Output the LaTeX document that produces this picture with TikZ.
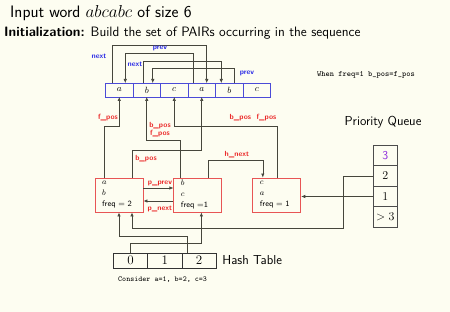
\documentclass[tikz,border=0pt]{standalone}
\usepackage{amsmath}
\usepackage{amssymb}
\usepackage{tikz}
\usetikzlibrary{arrows.meta, positioning}
\definecolor{slidebg}{RGB}{253,253,241}
\definecolor{seqblue}{RGB}{75,75,215}
\definecolor{ptrblue}{RGB}{45,45,230}
\definecolor{pairred}{RGB}{232,85,85}
\definecolor{labred}{RGB}{235,40,40}
\definecolor{pqviolet}{RGB}{140,40,220}
\definecolor{wiregray}{RGB}{70,70,60}

\begin{document}
\begin{tikzpicture}[
    x=1pt, y=-1pt,
    seqcell/.style={draw=seqblue, line width=0.8pt, minimum width=27.5pt, minimum height=14pt, inner sep=0pt, outer sep=0pt, font=\small},
    pair/.style={draw=pairred, line width=0.9pt, minimum width=48pt, minimum height=34pt, text width=34pt, inner xsep=7pt, inner ysep=0pt, align=left, font=\fontsize{8}{11}\selectfont\sffamily},
    hashcell/.style={draw=black!80, line width=0.7pt, minimum width=34.3pt, minimum height=15pt, inner sep=0pt, outer sep=0pt, font=\fontsize{13}{14}\selectfont},
    pqcell/.style={draw=black!70, line width=0.7pt, minimum width=24.5pt, minimum height=20.5pt, inner sep=0pt, outer sep=0pt, font=\fontsize{12}{14}\selectfont},
    wire/.style={wiregray, line width=0.6pt, -{Latex[length=4pt, width=3.4pt]}},
    ptrlabel/.style={font=\fontsize{7.5}{9}\selectfont\sffamily\bfseries, text=ptrblue, inner sep=0pt},
    poslabel/.style={font=\fontsize{7.5}{9}\selectfont\sffamily\bfseries, text=labred, inner sep=0pt},
    note/.style={font=\ttfamily, inner sep=0pt},
]

% Background
\fill[slidebg] (0,0) rectangle (450,312);
\useasboundingbox (0,0) rectangle (450,312);

% Titles
\node[anchor=west, inner sep=0pt, font=\fontsize{16.6}{18}\selectfont\sffamily] (title) at (10,13) {Input word $abcabc$ of size 6};
\node[anchor=west, inner sep=0pt, font=\fontsize{13.6}{15}\selectfont\sffamily] (init) at (4,33) {\textbf{Initialization:} Build the set of PAIRs occurring in the sequence};

% Sequence
\node[seqcell] (s1) at (119.25,90) {$a$};
\node[seqcell, right=0pt of s1] (s2) {$b$};
\node[seqcell, right=0pt of s2] (s3) {$c$};
\node[seqcell, right=0pt of s3] (s4) {$a$};
\node[seqcell, right=0pt of s4] (s5) {$b$};
\node[seqcell, right=0pt of s5] (s6) {$c$};

% Pairs
\node[pair] (ab) at (119,195) {$a$\\$b$\\freq = 2};
\node[pair, right=30pt of ab] (bc) {$b$\\$c$\\freq =1};
\node[pair, right=30pt of bc] (ca) {$c$\\$a$\\freq = 1};

% Hash table
\node[hashcell] (h0) at (130.5,260.5) {0};
\node[hashcell, right=0pt of h0] (h1) {1};
\node[hashcell, right=0pt of h1] (h2) {2};
\node[anchor=west, inner sep=0pt, font=\fontsize{13}{15}\selectfont\sffamily, right=6pt of h2] (hashname) {Hash Table};
\node[note, anchor=west, font=\fontsize{7.6}{9}\selectfont\ttfamily] (consider) at (118,280) {Consider a=1, b=2, c=3};

% Priority queue
\node[pqcell, font=\fontsize{12}{14}\selectfont\sffamily, text=pqviolet] (q1) at (385.25,155.5) {3};
\node[pqcell, below=0pt of q1] (q2) {2};
\node[pqcell, below=0pt of q2] (q3) {1};
\node[pqcell, below=0pt of q3] (q4) {$>3$};
\node[inner sep=0pt, font=\fontsize{13}{15}\selectfont\sffamily] (pqname) at (383,122) {Priority Queue};
\node[note, font=\fontsize{8}{9}\selectfont\ttfamily] (remark) at (366,75) {When freq=1 b\_pos=f\_pos};

% Links inside the sequence
\draw[wire] ([xshift=-7pt]s1.north) -- ++(0,-38) -| ([xshift=5pt]s4.north);
\draw[wire] ([xshift=-8pt]s4.north) -- ++(0,-30) -| ([xshift=6pt]s1.north);
\draw[wire] ([xshift=-3pt]s2.north) -- ++(0,-22) -| ([xshift=-8pt]s5.north);
\draw[wire] ([xshift=5pt]s5.north) -- ++(0,-15) -| ([xshift=6pt]s2.north);
\node[ptrlabel] (lnext1) at (99,56) {next};
\node[ptrlabel] (lprev1) at (160,48) {prev};
\node[ptrlabel] (lnext2) at (135,64) {next};
\node[ptrlabel] (lprev2) at (247,73) {prev};

% Pair positions
\draw[wire] ([xshift=-15pt]ab.north) -- ++(0,-51) -| (s1.south);
\draw[wire] ([xshift=-17.5pt]bc.north) -- ++(0,-37) -| (s2.south);
\draw[wire] ([xshift=13pt]ab.north) -- ++(0,-27) -| (s4.south);
\draw[wire] (ca.north) -- ++(0,-51) -| (s3.south);
\node[poslabel] (fpos1) at (108,118) {f\_pos};
\node[poslabel] (bpos2) at (160,126) {b\_pos};
\node[poslabel] (fpos2) at (160,134) {f\_pos};
\node[poslabel] (bpos1) at (146,159) {b\_pos};
\node[poslabel] (bfpos3) at (253,118) {b\_pos\ \ f\_pos};

% Pair links
\draw[wire] ([xshift=10pt]bc.north) -- ++(0,-17) -| ([xshift=-14pt]ca.north);
\node[poslabel] (hnext) at (237,155) {h\_next};
\draw[wire] ([yshift=7pt]ab.east) -- ([yshift=7pt]bc.west);
\draw[wire] ([yshift=-6pt]bc.west) -- ([yshift=-6pt]ab.east);
\node[poslabel] (pprev) at (160,183) {p\_prev};
\node[poslabel] (pnext) at (160,209) {p\_next};

% Hash table and queue entries
\draw[wire] ([xshift=-12pt]h2.north) -- ++(0,-17) -| (ab.south);
\draw[wire] (h0.north) -- ++(0,-10) -| ([xshift=3.5pt]bc.south);
\draw[wire] (q2.west) -- ++(-30,0) -- ++(0,52) -| ([xshift=13pt]ab.south);
\draw[wire] (q3.west) -- (q3.west -| ca.east);

\end{tikzpicture}
\end{document}
